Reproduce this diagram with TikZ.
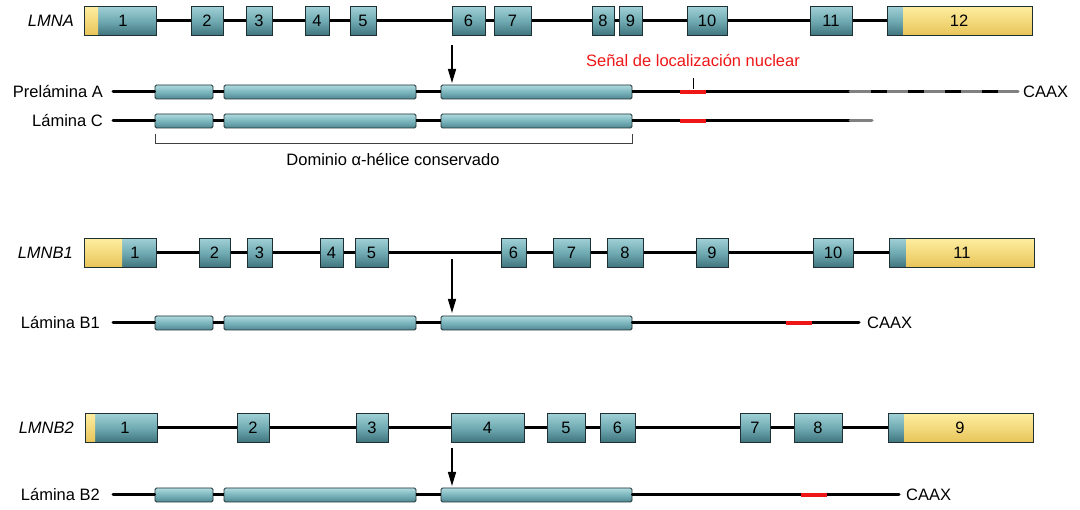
\documentclass[tikz,border=0pt]{standalone}
\usepackage{fontspec}
\setmainfont{Liberation Sans}
\usetikzlibrary{arrows.meta}
\definecolor{tealtop}{RGB}{160,208,214}
\definecolor{tealmid}{RGB}{112,170,178}
\definecolor{tealbot}{RGB}{62,115,124}
\definecolor{ptop}{RGB}{175,218,223}
\definecolor{pmid}{RGB}{122,180,188}
\definecolor{pbot}{RGB}{80,135,145}
\definecolor{ytop}{RGB}{254,238,160}
\definecolor{ybot}{RGB}{232,196,88}
\definecolor{edge}{RGB}{30,48,52}
\definecolor{sigred}{RGB}{238,22,22}
\definecolor{tailgray}{RGB}{128,128,128}
\begin{document}
\begin{tikzpicture}[x=1pt,y=-1pt,
  every node/.style={font=\fontsize{16.5}{19}\selectfont, inner sep=0pt},
  exon/.style={draw=edge, line width=1pt, top color=tealtop, bottom color=tealbot, middle color=tealmid, minimum height=29, inner sep=0pt},
  pbox/.style={draw=edge, line width=0.8pt, top color=ptop, bottom color=pbot, middle color=pmid, minimum height=14, rounded corners=1.5pt},
  utrleft/.style={path picture={\shade[top color=ytop, bottom color=ybot] (path picture bounding box.north west) rectangle ([xshift=#1]path picture bounding box.south west);}},
  utrright/.style={path picture={\shade[top color=ytop, bottom color=ybot] (path picture bounding box.north east) rectangle ([xshift=-#1]path picture bounding box.south east);}},
  intron/.style={line width=3pt},
  pline/.style={line width=3pt},
  nls/.style={line width=4.5pt, sigred},
  arr/.style={line width=1.4pt, -{Triangle[length=14pt,width=8pt]}},
  genename/.style={anchor=east, font=\fontsize{16.5}{19}\selectfont\itshape},
  protname/.style={anchor=east},
]
\useasboundingbox (0,0) rectangle (1080,510);

% ---------------- LMNA gene ----------------
\node[genename] (gA) at (74,21) {LMNA};
\node[exon, minimum width=72, utrleft=14pt] (a1) at (120,21) {};
\node (a1t) at (123,21) {1};
\foreach \n/\a/\b/\t in {a2/191/223/2,a3/246/272/3,a4/305/329/4,a5/350/376/5,a6/452/485/6,a7/494/531/7,a8/592/614/8,a9/619/642/9,a10/687/727/10,a11/810/852/11}
  \node[exon, minimum width=\b-\a] (\n) at ({(\a+\b)/2},21) {\t};
\node[exon, minimum width=145, utrright=129pt] (a12) at (959.5,21) {};
\node (a12t) at (959,21) {12};
\foreach \p/\q in {a1/a2,a2/a3,a3/a4,a4/a5,a5/a6,a6/a7,a7/a8,a8/a9,a9/a10,a10/a11,a11/a12}
  \draw[intron] (\p) -- (\q);

% arrow
\coordinate (arA1) at (452,45);
\coordinate (arA2) at (452,83);
\draw[arr] (arA1) -- (arA2);

% nuclear localisation label
\node[text=sigred] (nlsL) at (693,61) {Señal de localización nuclear};
\coordinate (tk1) at (693,78);
\coordinate (tk2) at (693,89);
\draw[line width=1pt] (tk1) -- (tk2);

% ---------------- Prelamina A ----------------
\node[protname] (paL) at (103,92) {Prelámina A};
\coordinate (paS) at (113,92);
\node[pbox, minimum width=58] (pa1) at (184,92) {};
\node[pbox, minimum width=192] (pa2) at (320,92) {};
\node[pbox, minimum width=191] (pa3) at (536.5,92) {};
\coordinate (paR1) at (680,92);
\coordinate (paR2) at (706,92);
\coordinate (paG) at (850,92);
\coordinate (paE) at (1018,92);
\draw[pline, line cap=round] (paS) -- (pa1);
\draw[pline] (pa1) -- (pa2);
\draw[pline] (pa2) -- (pa3);
\draw[pline] (pa3) -- (paG);
\draw[nls] (paR1) -- (paR2);
\draw[pline, tailgray, line cap=round] (paG) -- (paE);
\draw[pline, dash pattern=on 16pt off 21pt, dash phase=16pt] (paG) -- (paE);
\node[anchor=west] (paX) at (1023,92) {CAAX};

% ---------------- Lamina C ----------------
\node[protname] (pcL) at (103,121) {Lámina C};
\coordinate (pcS) at (113,121);
\node[pbox, minimum width=58] (pc1) at (184,121) {};
\node[pbox, minimum width=192] (pc2) at (320,121) {};
\node[pbox, minimum width=191] (pc3) at (536.5,121) {};
\coordinate (pcR1) at (680,121);
\coordinate (pcR2) at (706,121);
\coordinate (pcG) at (850,121);
\coordinate (pcE) at (872,121);
\draw[pline, line cap=round] (pcS) -- (pc1);
\draw[pline] (pc1) -- (pc2);
\draw[pline] (pc2) -- (pc3);
\draw[pline] (pc3) -- (pcG);
\draw[nls] (pcR1) -- (pcR2);
\draw[pline, tailgray, line cap=round] (pcG) -- (pcE);

% bracket
\draw[line width=0.9pt, black!75] (155,134) -- (155,143) -- (632,143) -- (632,134);
\node (dom) at (393,160) {Dominio α-hélice conservado};

% ---------------- LMNB1 gene ----------------
\node[genename] (gB1) at (73,253) {LMNB1};
\node[exon, minimum width=72, utrleft=38pt] (b1) at (120,253) {};
\node (b1t) at (135,253) {1};
\foreach \n/\a/\b/\t in {b2/199/230/2,b3/247/272/3,b4/320/343/4,b5/355/388/5,b6/501/526/6,b7/553/590/7,b8/607/643/8,b9/696/728/9,b10/813/853/10}
  \node[exon, minimum width=\b-\a] (\n) at ({(\a+\b)/2},253) {\t};
\node[exon, minimum width=145, utrright=128pt] (b11) at (961.5,253) {};
\node (b11t) at (962,253) {11};
\foreach \p/\q in {b1/b2,b2/b3,b3/b4,b4/b5,b5/b6,b6/b7,b7/b8,b8/b9,b9/b10,b10/b11}
  \draw[intron] (\p) -- (\q);

\coordinate (arB1) at (452,259);
\coordinate (arB2) at (452,313);
\draw[arr] (arB1) -- (arB2);

% ---------------- Lamina B1 ----------------
\node[protname] (pbL) at (100,323) {Lámina B1};
\coordinate (pbS) at (113,323);
\node[pbox, minimum width=58] (pb1) at (184,323) {};
\node[pbox, minimum width=192] (pb2) at (320,323) {};
\node[pbox, minimum width=191] (pb3) at (536.5,323) {};
\coordinate (pbR1) at (786,323);
\coordinate (pbR2) at (812,323);
\coordinate (pbE) at (859,323);
\draw[pline, line cap=round] (pbS) -- (pb1);
\draw[pline] (pb1) -- (pb2);
\draw[pline] (pb2) -- (pb3);
\draw[pline, line cap=round] (pb3) -- (pbE);
\draw[nls] (pbR1) -- (pbR2);
\node[anchor=west] (pbX) at (867,323) {CAAX};

% ---------------- LMNB2 gene ----------------
\node[genename] (gB2) at (74,428) {LMNB2};
\node[exon, minimum width=72, utrleft=10pt] (c1) at (121,428) {};
\node (c1t) at (125,428) {1};
\foreach \n/\a/\b/\t in {c2/237/269/2,c3/356/388/3,c4/451/524/4,c5/547/585/5,c6/600/635/6,c7/740/770/7,c8/794/842/8}
  \node[exon, minimum width=\b-\a] (\n) at ({(\a+\b)/2},428) {\t};
\node[exon, minimum width=145, utrright=129pt] (c9) at (961,428) {};
\node (c9t) at (960,428) {9};
\foreach \p/\q in {c1/c2,c2/c3,c3/c4,c4/c5,c5/c6,c6/c7,c7/c8,c8/c9}
  \draw[intron] (\p) -- (\q);

\coordinate (arC1) at (452,448);
\coordinate (arC2) at (452,486);
\draw[arr] (arC1) -- (arC2);

% ---------------- Lamina B2 ----------------
\node[protname] (pdL) at (100,495) {Lámina B2};
\coordinate (pdS) at (113,495);
\node[pbox, minimum width=58] (pd1) at (184,495) {};
\node[pbox, minimum width=192] (pd2) at (320,495) {};
\node[pbox, minimum width=191] (pd3) at (536.5,495) {};
\coordinate (pdR1) at (801,495);
\coordinate (pdR2) at (827,495);
\coordinate (pdE) at (899,495);
\draw[pline, line cap=round] (pdS) -- (pd1);
\draw[pline] (pd1) -- (pd2);
\draw[pline] (pd2) -- (pd3);
\draw[pline, line cap=round] (pd3) -- (pdE);
\draw[nls] (pdR1) -- (pdR2);
\node[anchor=west] (pdX) at (906,495) {CAAX};
\end{tikzpicture}
\end{document}
